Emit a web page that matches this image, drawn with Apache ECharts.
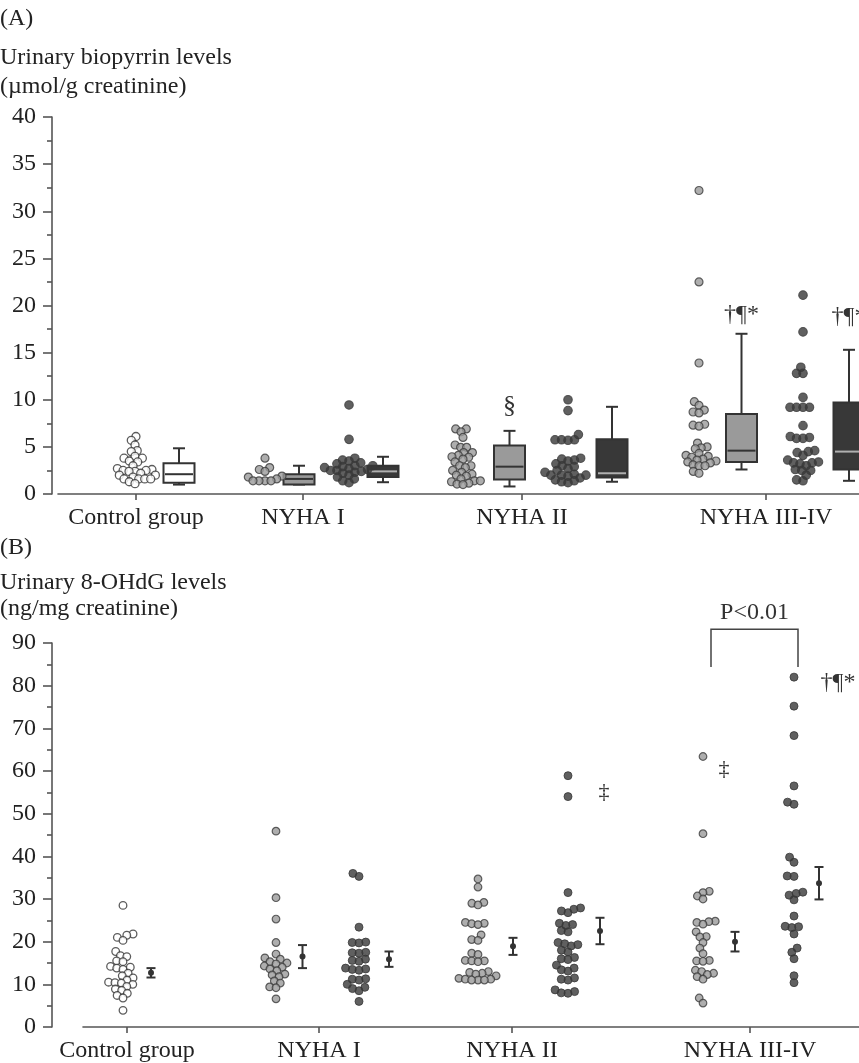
<!DOCTYPE html>
<html>
<head>
<meta charset="utf-8">
<script src="https://cdn.jsdelivr.net/npm/echarts@6/dist/echarts.min.js"></script>
<style>
  html, body { margin: 0; padding: 0; background: #fff; }
  #chart { width: 859px; height: 1063px; }
</style>
</head>
<body>
<div id="chart"></div>
<script>
// ---------------- data ----------------
const categories = ['Control group', 'NYHA I', 'NYHA II', 'NYHA III-IV'];
const ticksA = [0, 5, 10, 15, 20, 25, 30, 35, 40];
const ticksB = [0, 10, 20, 30, 40, 50, 60, 70, 80, 90];

// Panel A: urinary biopyrrin (µmol/g creatinine)
const bioControl = [6.1,5.7,5.2,4.6,4.5,4.0,3.8,3.8,3.5,3.4,3.0,2.7,2.6,2.5,2.5,2.4,2.4,2.2,2.0,2.0,1.8,1.6,1.6,1.6,1.6,1.3,1.1];
const bioIGray = [3.8,2.8,2.6,2.4,1.9,1.8,1.6,1.4,1.4,1.4,1.4];
const bioIDark = [9.45,5.8,3.8,3.6,3.5,3.3,3.2,3.0,3.0,2.9,2.8,2.7,2.6,2.5,2.5,2.4,2.3,2.2,2.0,1.8,1.6,1.4,1.2];
const bioIIGray = [6.9,6.9,6.6,6.0,5.2,4.95,4.95,4.4,4.4,4.1,3.95,3.9,3.7,3.4,3.0,3.0,2.8,2.5,2.3,2.1,2.0,1.9,1.6,1.4,1.4,1.3,1.15,1.05,1.0];
const bioIIDark = [10.0,8.85,6.3,5.75,5.75,5.75,5.7,3.8,3.7,3.6,3.5,3.2,3.0,2.9,2.7,2.5,2.3,2.1,2.0,2.0,2.0,1.9,1.7,1.5,1.4,1.3,1.2];
const bioIIIGray = [32.2,22.5,13.9,9.8,9.4,8.9,8.7,8.6,7.4,7.3,7.2,5.4,5.0,4.9,4.8,4.3,4.1,4.0,3.9,3.7,3.6,3.5,3.4,3.3,3.1,3.0,3.0,2.4,2.2];
const bioIIIDark = [21.1,17.2,13.45,12.8,12.8,10.25,9.2,9.2,9.2,9.2,7.25,6.1,6.0,5.9,5.9,4.6,4.5,4.4,4.1,3.6,3.4,3.3,3.3,3.2,3.0,2.6,2.5,2.5,2.0,1.5,1.4];

// box plots [min, q1, median, q3, max]
const boxControl = [1.0, 1.2, 2.1, 3.25, 4.85];
const boxIGray = [1.0, 1.0, 1.6, 2.1, 3.0];
const boxIDark = [1.25, 1.8, 2.4, 3.0, 3.95];
const boxIIGray = [0.8, 1.55, 2.9, 5.15, 6.7];
const boxIIDark = [1.3, 1.75, 2.2, 5.8, 9.25];
const boxIIIGray = [2.6, 3.4, 4.6, 8.5, 17.0];
const boxIIIDark = [1.4, 2.6, 4.5, 9.7, 15.3];

// Panel B: urinary 8-OHdG (ng/mg creatinine)
const ohdgControl = [28.5,21.8,21.5,21.0,20.3,17.7,16.7,16.5,15.5,15.3,14.2,14.0,13.8,13.5,12.6,12.0,11.5,11.0,10.5,10.4,10.3,10.0,9.5,8.9,8.6,7.9,7.4,6.8,3.9];
const ohdgIGray = [45.9,30.3,25.3,19.8,17.1,16.2,15.9,15.3,15.0,14.8,14.3,14.0,13.6,13.2,12.4,12.2,11.8,10.8,10.3,9.4,9.2,6.6];
const ohdgIDark = [36.0,35.3,23.4,19.9,19.8,19.7,17.5,17.4,17.3,15.9,15.6,15.4,13.8,13.6,13.5,13.3,11.3,11.2,11.0,10.0,9.3,9.0,8.5,6.0];
const ohdgIIGray = [34.7,32.8,29.2,29.0,28.6,24.5,24.3,24.2,24.0,21.6,20.5,20.3,17.3,17.0,15.6,15.5,15.5,15.3,13.0,12.8,12.6,12.4,12.0,11.4,11.2,11.2,11.0,11.0,11.0];
const ohdgIIDark = [58.9,54.0,31.5,27.9,27.6,27.2,26.8,24.3,24.0,23.8,22.6,22.3,19.8,19.5,19.3,19.0,18.0,17.6,16.3,16.0,15.8,14.5,13.8,13.4,13.1,11.5,11.2,11.0,8.7,8.3,8.0,7.9];
const ohdgIIIGray = [63.4,45.3,31.8,31.5,30.7,30.0,24.8,24.7,24.5,24.1,22.3,21.2,21.1,19.8,18.5,17.2,15.6,15.5,15.4,13.3,13.0,12.6,12.3,11.8,11.2,6.8,5.6];
const ohdgIIIDark = [82.0,75.2,68.3,56.5,52.7,52.2,39.8,38.6,35.4,35.3,31.6,31.3,30.9,29.8,26.0,23.6,23.5,23.3,21.8,18.5,17.5,16.0,12.0,10.4];

// mean ± SE [mean, se]
const errControl = [12.7, 1.1];
const errIGray = [16.5, 2.7];
const errIDark = [15.9, 1.8];
const errIIGray = [18.9, 2.0];
const errIIDark = [22.5, 3.1];
const errIIIGray = [20.0, 2.3];
const errIIIDark = [33.7, 3.8];

// annotation texts
const annotTexts = ['§', '†¶*', '†¶*', '‡', '‡', '†¶*', 'P<0.01'];

// ---------------- layout (pixels within each grid) ----------------
const FONT = '"Liberation Serif", "Times New Roman", serif';
const INK = '#333';
const AX = '#555';
const GA = { left: 58, top: 117, width: 801, height: 377, yMax: 40 };
const GB = { left: 83, top: 643, width: 776, height: 387, yMax: 90 };
const posA = {
  ticks: [78, 245, 464, 708],
  control: 77, Igray: 207, Idark: 291, IIgray: 405, IIdark: 510, IIIgray: 641, IIIdark: 745,
  bControl: 121, bIgray: 241, bIdark: 325, bIIgray: 451.5, bIIdark: 554, bIIIgray: 683.5, bIIIdark: 791
};
const posB = {
  ticks: [44, 236, 429, 667],
  control: 40, Igray: 193, Idark: 276, IIgray: 395, IIdark: 485, IIIgray: 620, IIIdark: 711,
  eControl: 68, eIgray: 219.5, eIdark: 306, eIIgray: 430, eIIdark: 517, eIIIgray: 652, eIIIdark: 736
};

// beeswarm: offsets in pixels (x axis unit == 1 px)
function swarm(values, center, pxPerUnit, D) {
  const order = values.map((v, i) => i).sort((a, b) => values[a] - values[b]);
  const placed = [];
  const out = new Array(values.length);
  for (const i of order) {
    const y = values[i] * pxPerUnit;
    const cands = [0];
    for (const p of placed) {
      const dy = Math.abs(p.y - y);
      if (dy < D) {
        const dx = Math.sqrt(D * D - dy * dy);
        cands.push(p.x + dx, p.x - dx);
      }
    }
    cands.sort((a, b) => Math.abs(a) - Math.abs(b) || a - b);
    let best = 0;
    for (const c of cands) {
      if (placed.every(p => (p.x - c) ** 2 + (p.y - y) ** 2 >= D * D - 1e-6)) { best = c; break; }
    }
    placed.push({ x: best, y });
    out[i] = [center + best, values[i]];
  }
  return out;
}

const styles = {
  white: { color: '#ffffff', borderColor: INK, borderWidth: 1.3 },
  gray: { color: '#9a9a9a', borderColor: '#3c3c3c', borderWidth: 1.2 },
  dark: { color: '#383838', borderColor: '#383838', borderWidth: 1 }
};

function dots(gi, values, center, kind, size, spacing) {
  const g = gi === 0 ? GA : GB;
  return {
    type: 'scatter', xAxisIndex: gi, yAxisIndex: gi,
    symbol: 'circle', symbolSize: size,
    itemStyle: styles[kind],
    data: swarm(values, center, g.height / g.yMax, spacing),
    z: 3, silent: true
  };
}

function boxes(items, fill, medColor) {
  return {
    type: 'custom', xAxisIndex: 0, yAxisIndex: 0, z: 2, silent: true,
    data: items.map(it => [it[0]].concat(it[1])),
    renderItem: (params, api) => {
      const x = api.value(0);
      const p = [1, 2, 3, 4, 5].map(k => api.coord([x, api.value(k)]));
      const cx = p[0][0], hw = 15.5, cw = 6;
      const st = { stroke: INK, lineWidth: 2 };
      return {
        type: 'group', children: [
          { type: 'line', shape: { x1: cx, y1: p[4][1], x2: cx, y2: p[3][1] }, style: st },
          { type: 'line', shape: { x1: cx, y1: p[1][1], x2: cx, y2: p[0][1] }, style: st },
          { type: 'line', shape: { x1: cx - cw, y1: p[4][1], x2: cx + cw, y2: p[4][1] }, style: st },
          { type: 'line', shape: { x1: cx - cw, y1: p[0][1], x2: cx + cw, y2: p[0][1] }, style: st },
          { type: 'rect', shape: { x: cx - hw, y: p[3][1], width: 2 * hw, height: p[1][1] - p[3][1] },
            style: { fill: fill, stroke: INK, lineWidth: 2 } },
          { type: 'line', shape: { x1: cx - hw + 1.5, y1: p[2][1], x2: cx + hw - 1.5, y2: p[2][1] },
            style: { stroke: medColor, lineWidth: 2 } }
        ]
      };
    }
  };
}

function errbars(items) {
  return {
    type: 'custom', xAxisIndex: 1, yAxisIndex: 1, z: 2, silent: true,
    data: items.map(it => [it[0], it[1][0], it[1][1]]),
    renderItem: (params, api) => {
      const x = api.value(0), m = api.value(1), se = api.value(2);
      const pm = api.coord([x, m]), ph = api.coord([x, m + se]), pl = api.coord([x, m - se]);
      const st = { stroke: INK, lineWidth: 2 };
      const cx = pm[0], cw = 4.5;
      return {
        type: 'group', children: [
          { type: 'line', shape: { x1: cx, y1: ph[1], x2: cx, y2: pl[1] }, style: st },
          { type: 'line', shape: { x1: cx - cw, y1: ph[1], x2: cx + cw, y2: ph[1] }, style: st },
          { type: 'line', shape: { x1: cx - cw, y1: pl[1], x2: cx + cw, y2: pl[1] }, style: st },
          { type: 'circle', shape: { cx: cx, cy: pm[1], r: 3 }, style: { fill: INK } }
        ]
      };
    }
  };
}

function annots(gi, items) {
  return {
    type: 'custom', xAxisIndex: gi, yAxisIndex: gi, z: 4, silent: true,
    data: items.map(it => [it[0], it[1], it[2], it[3]]),
    renderItem: (params, api) => {
      const p = api.coord([api.value(0), api.value(1)]);
      return {
        type: 'text',
        style: { text: annotTexts[api.value(2)], x: p[0], y: p[1], font: api.value(3) + 'px ' + FONT,
          fill: INK, textAlign: 'center', textVerticalAlign: 'middle', align: 'center', verticalAlign: 'middle' }
      };
    }
  };
}

// bracket for P<0.01 (drawn above the top of the axis)
const bracket = {
  type: 'custom', xAxisIndex: 1, yAxisIndex: 1, z: 4, silent: true,
  data: [[posB.IIIgray + 8, posB.IIIdark + 4, 93.2, 84.4]],
  renderItem: (params, api) => {
    const a = api.coord([api.value(0), api.value(2)]);
    const b = api.coord([api.value(1), api.value(2)]);
    const aB = api.coord([api.value(0), api.value(3)]);
    const bB = api.coord([api.value(1), api.value(3)]);
    return {
      type: 'polyline',
      shape: { points: [[aB[0], aB[1]], [a[0], a[1]], [b[0], b[1]], [bB[0], bB[1]]] },
      style: { stroke: '#444', lineWidth: 1.5, fill: null }
    };
  }
};

function mkX(gi, g, ticks) {
  return {
    type: 'value', gridIndex: gi, min: 0, max: g.width,
    axisLine: { show: true, onZero: false, lineStyle: { color: AX, width: 1.6 } },
    axisTick: { show: true, customValues: ticks, length: 6, lineStyle: { color: AX, width: 1.6 } },
    axisLabel: {
      customValues: ticks,
      formatter: v => { const i = ticks.indexOf(v); return i >= 0 ? categories[i] : ''; },
      fontSize: 24, fontFamily: FONT, color: '#222', margin: 12
    },
    splitLine: { show: false }
  };
}
function mkY(gi, g, ticks, offset) {
  return {
    type: 'value', gridIndex: gi, min: ticks[0], max: ticks[ticks.length - 1],
    interval: ticks[1] - ticks[0], offset: offset,
    axisLine: { show: true, onZero: false, lineStyle: { color: AX, width: 1.6 } },
    axisTick: { show: true, length: 9, lineStyle: { color: AX, width: 1.6 } },
    minorTick: { show: true, splitNumber: 2, length: 5, lineStyle: { color: AX, width: 1.6 } },
    axisLabel: { fontSize: 24, fontFamily: FONT, color: '#222', margin: 16 },
    splitLine: { show: false }
  };
}

function txt(s, x, y) {
  return { type: 'text', x: x, y: y,
    style: { text: s, font: '24px ' + FONT, fill: '#222', textVerticalAlign: 'middle', verticalAlign: 'middle' } };
}

const option = {
  animation: false,
  backgroundColor: '#fff',
  grid: [
    { left: GA.left, top: GA.top, width: GA.width, height: GA.height },
    { left: GB.left, top: GB.top, width: GB.width, height: GB.height }
  ],
  xAxis: [mkX(0, GA, posA.ticks), mkX(1, GB, posB.ticks)],
  yAxis: [mkY(0, GA, ticksA, GA.left - 52), mkY(1, GB, ticksB, GB.left - 52)],
  graphic: [
    txt('(A)', 0, 19),
    txt('Urinary biopyrrin levels', 0, 58),
    txt('(µmol/g creatinine)', 0, 87),
    txt('(B)', 0, 548),
    txt('Urinary 8-OHdG levels', 0, 583),
    txt('(ng/mg creatinine)', 0, 609)
  ],
  series: [
    // Panel A boxes
    boxes([[posA.bControl, boxControl]], '#ffffff', INK),
    boxes([[posA.bIgray, boxIGray], [posA.bIIgray, boxIIGray], [posA.bIIIgray, boxIIIGray]], '#9a9a9a', INK),
    boxes([[posA.bIdark, boxIDark], [posA.bIIdark, boxIIDark], [posA.bIIIdark, boxIIIDark]], '#383838', '#b0b0b0'),
    // Panel A dots
    dots(0, bioControl, posA.control, 'white', 8, 6),
    dots(0, bioIGray, posA.Igray, 'gray', 8, 6),
    dots(0, bioIDark, posA.Idark, 'dark', 8.6, 6.5),
    dots(0, bioIIGray, posA.IIgray, 'gray', 8, 6),
    dots(0, bioIIDark, posA.IIdark, 'dark', 8.6, 6.5),
    dots(0, bioIIIGray, posA.IIIgray, 'gray', 8, 6),
    dots(0, bioIIIDark, posA.IIIdark, 'dark', 8.6, 6.5),
    annots(0, [[posA.bIIgray, 9.3, 0, 26], [posA.bIIIgray, 19.0, 1, 24], [posA.bIIIdark, 18.8, 2, 24]]),
    // Panel B dots
    dots(1, ohdgControl, posB.control, 'white', 7.6, 6.4),
    dots(1, ohdgIGray, posB.Igray, 'gray', 7.6, 6.4),
    dots(1, ohdgIDark, posB.Idark, 'dark', 8, 6.8),
    dots(1, ohdgIIGray, posB.IIgray, 'gray', 7.6, 6.4),
    dots(1, ohdgIIDark, posB.IIdark, 'dark', 8, 6.8),
    dots(1, ohdgIIIGray, posB.IIIgray, 'gray', 7.6, 6.4),
    dots(1, ohdgIIIDark, posB.IIIdark, 'dark', 8, 6.8),
    errbars([[posB.eControl, errControl], [posB.eIgray, errIGray], [posB.eIdark, errIDark],
             [posB.eIIgray, errIIGray], [posB.eIIdark, errIIDark], [posB.eIIIgray, errIIIGray], [posB.eIIIdark, errIIIDark]]),
    annots(1, [[posB.eIIdark + 4, 55.1, 3, 22], [posB.eIIIgray - 11, 60.5, 4, 22], [posB.IIIdark + 44, 80.7, 5, 24],
               [(posB.IIIgray + posB.IIIdark) / 2 + 6, 97.1, 6, 24]]),
    bracket
  ]
};

const chart = echarts.init(document.getElementById('chart'), null, { renderer: 'canvas' });
chart.setOption(option);
</script>
</body>
</html>
